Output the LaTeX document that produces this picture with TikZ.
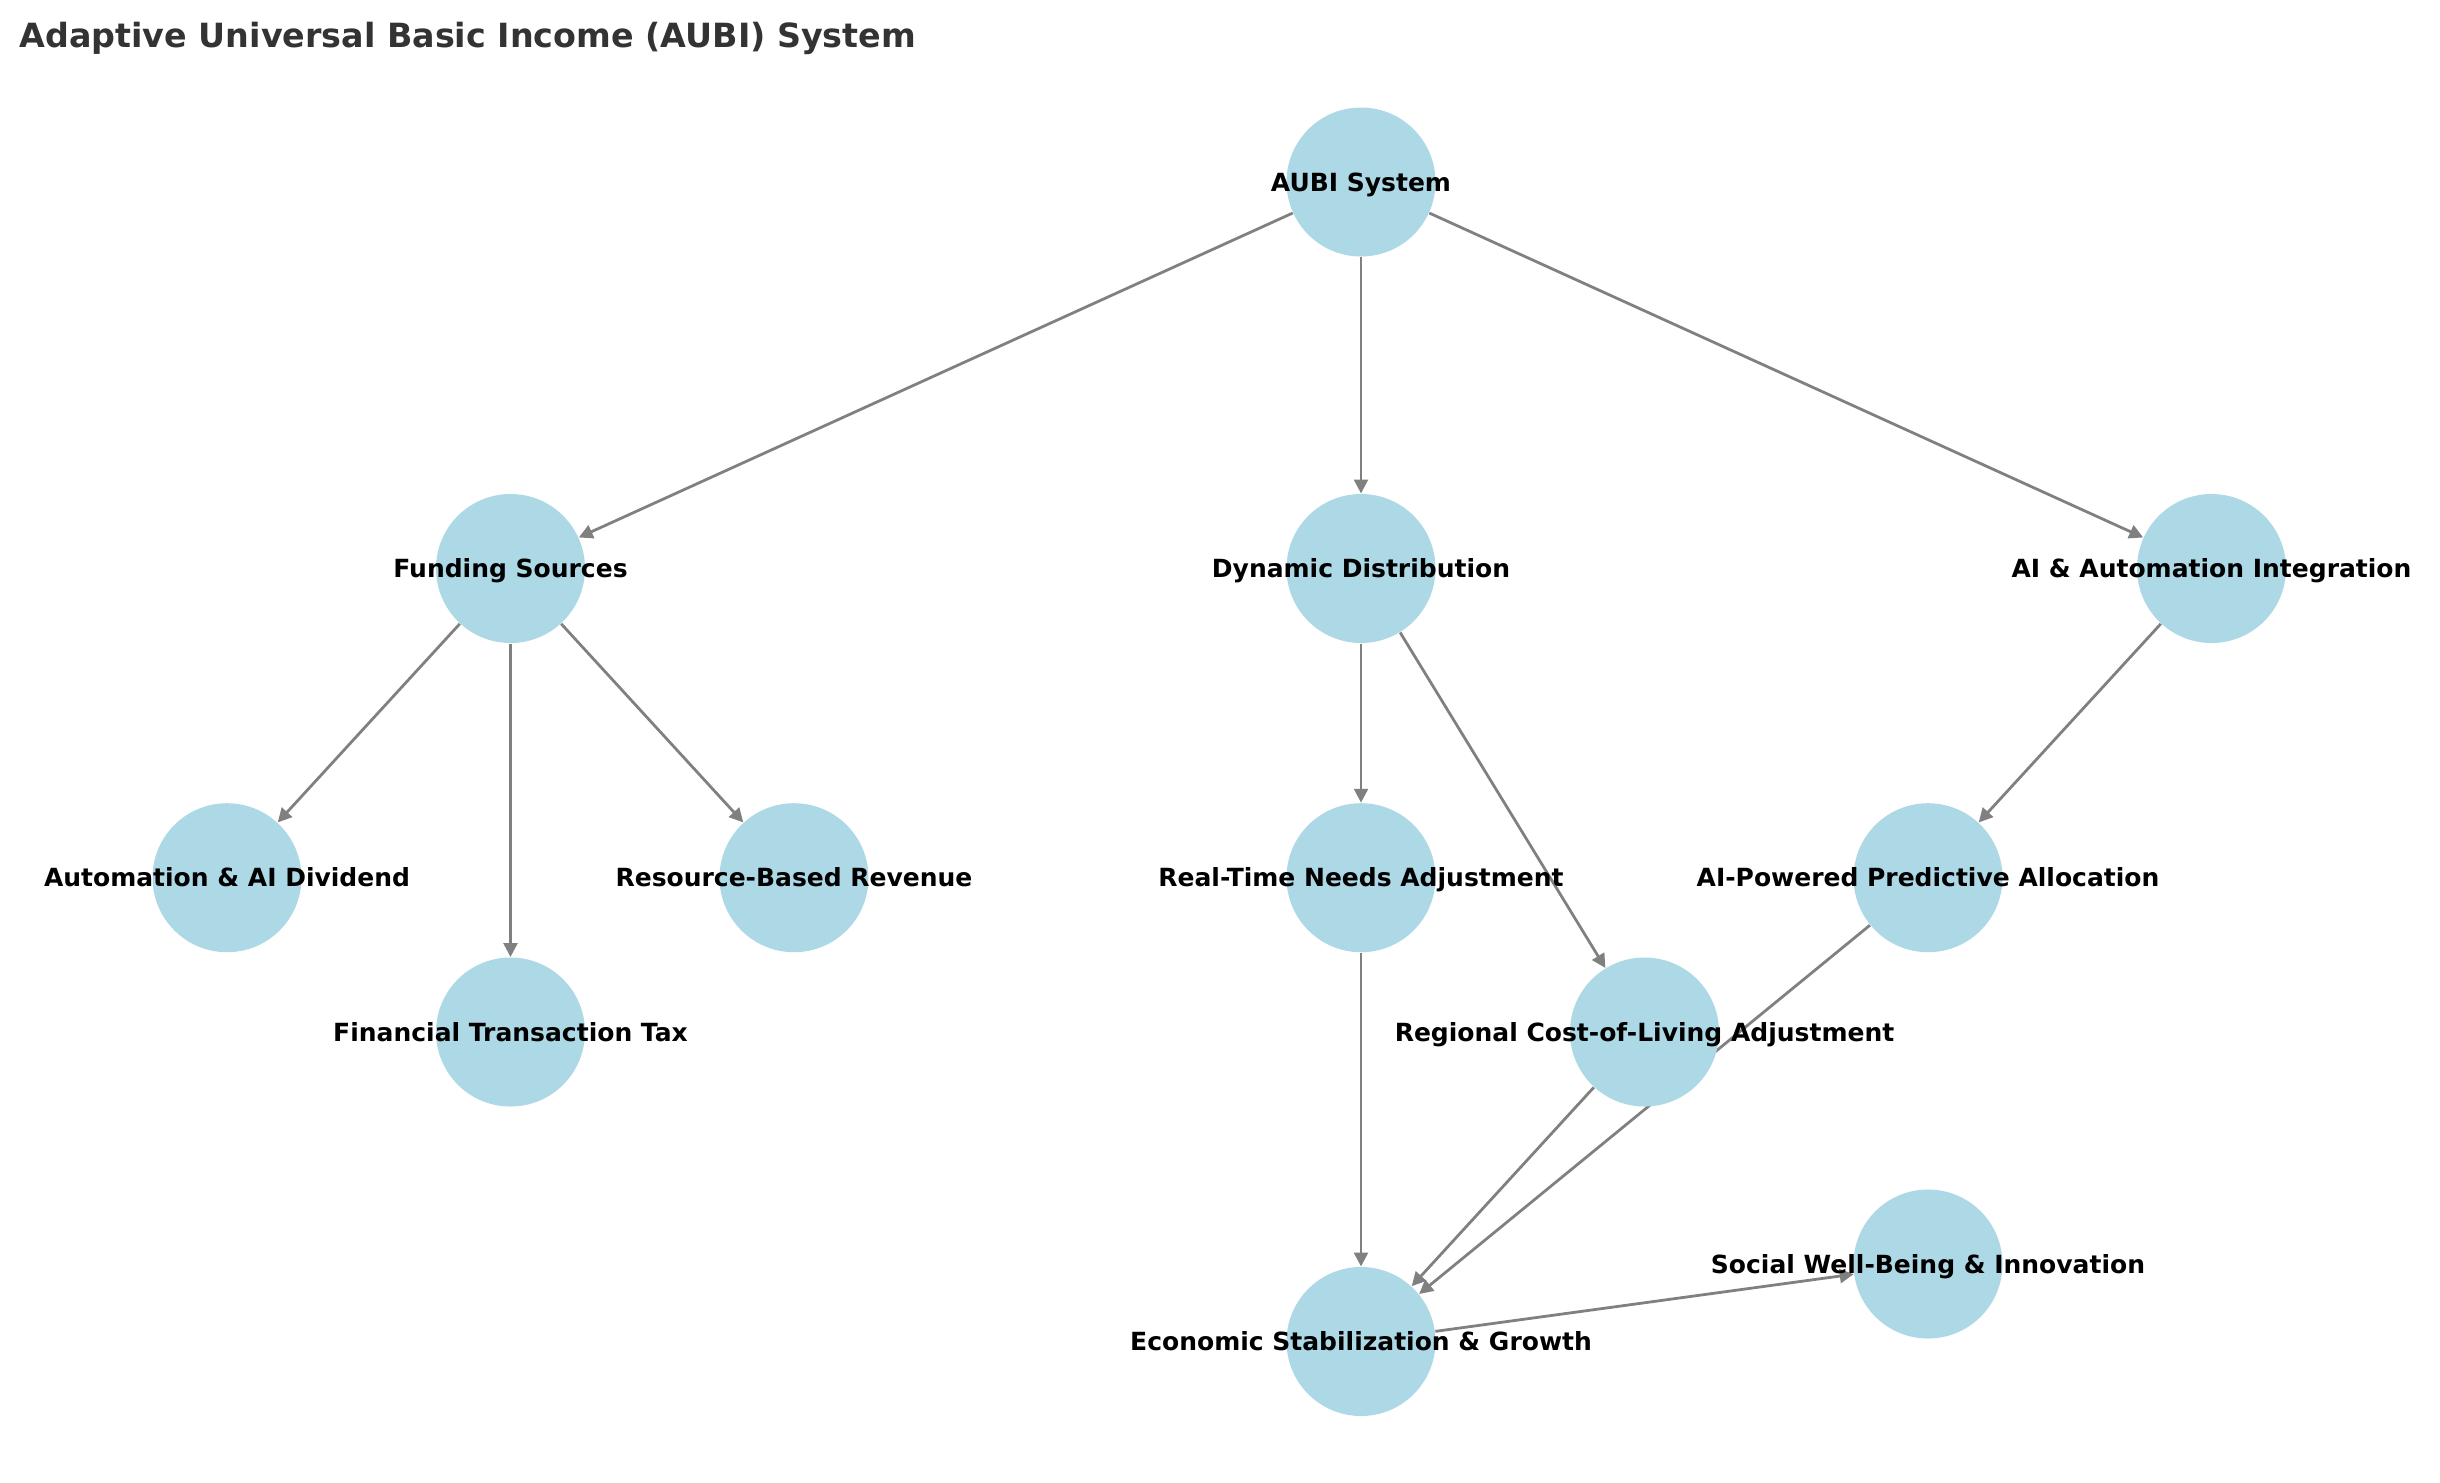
\documentclass[tikz,border=0pt]{standalone}
\usepackage{fontspec}
\setmainfont{DejaVu Sans}
\usetikzlibrary{arrows.meta}
\definecolor{nodeblue}{HTML}{ADD8E6}
\definecolor{edgegray}{HTML}{808080}
\definecolor{titlegray}{HTML}{333333}
\pgfdeclarelayer{bg}
\pgfdeclarelayer{edges}
\pgfsetlayers{bg,edges,main}
\tikzset{
  circ/.style={circle, fill=nodeblue, draw=none, minimum size=53.64pt, inner sep=0pt},
  lbl/.style={inner sep=0pt, text height=6.6pt, text depth=0pt, font=\fontsize{9}{11}\selectfont\bfseries, text=black},
  edge/.style={draw=edgegray, line width=1pt, -{Triangle[length=5pt,width=5pt]}},
  ttl/.style={inner sep=0pt, anchor=base west, font=\fontsize{12}{14}\selectfont\bfseries, text=titlegray}
}
\begin{document}
\begin{tikzpicture}[x=0.36pt, y=-0.36pt]
\begin{pgfonlayer}{bg}
\path[fill=white] (0,0) rectangle (2440,1482);
\end{pgfonlayer}
\useasboundingbox (0,0) rectangle (2440,1482);
\node[ttl] (title) at (19,47) {Adaptive Universal Basic Income (AUBI) System};
% nodes
\node[circ] (aubi) at (1361,182) {};
\node[circ] (fund) at (510.5,568.5) {};
\node[circ] (dyn) at (1361,568.5) {};
\node[circ] (aiint) at (2211.5,568.5) {};
\node[circ] (div) at (227,877.7) {};
\node[circ] (res) at (794,877.7) {};
\node[circ] (rtn) at (1361,877.7) {};
\node[circ] (aipa) at (1928,877.7) {};
\node[circ] (ftt) at (510.5,1032) {};
\node[circ] (reg) at (1644.5,1032) {};
\node[circ] (soc) at (1928,1264) {};
\node[circ] (eco) at (1361,1341.5) {};
% edges
\begin{pgfonlayer}{edges}
\draw[edge] (aubi) -- (fund);
\draw[edge] (aubi) -- (dyn);
\draw[edge] (aubi) -- (aiint);
\draw[edge] (fund) -- (div);
\draw[edge] (fund) -- (ftt);
\draw[edge] (fund) -- (res);
\draw[edge] (dyn) -- (rtn);
\draw[edge] (dyn) -- (reg);
\draw[edge] (aiint) -- (aipa);
\draw[edge] (rtn) -- (eco);
\draw[edge] (reg) -- (eco);
\draw[edge] (aipa) -- (eco);
\draw[edge] (eco) -- (soc);
\end{pgfonlayer}
% labels
\node[lbl] (t-aubi) at (aubi.center) {AUBI System};
\node[lbl] (t-fund) at (fund.center) {Funding Sources};
\node[lbl] (t-dyn) at (dyn.center) {Dynamic Distribution};
\node[lbl] (t-aiint) at (aiint.center) {AI \& Automation Integration};
\node[lbl] (t-div) at (div.center) {Automation \& AI Dividend};
\node[lbl] (t-res) at (res.center) {Resource-Based Revenue};
\node[lbl] (t-rtn) at (rtn.center) {Real-Time Needs Adjustment};
\node[lbl] (t-aipa) at (aipa.center) {AI-Powered Predictive Allocation};
\node[lbl] (t-ftt) at (ftt.center) {Financial Transaction Tax};
\node[lbl] (t-reg) at (reg.center) {Regional Cost-of-Living Adjustment};
\node[lbl] (t-soc) at (soc.center) {Social Well-Being \& Innovation};
\node[lbl] (t-eco) at (eco.center) {Economic Stabilization \& Growth};
\end{tikzpicture}
\end{document}
